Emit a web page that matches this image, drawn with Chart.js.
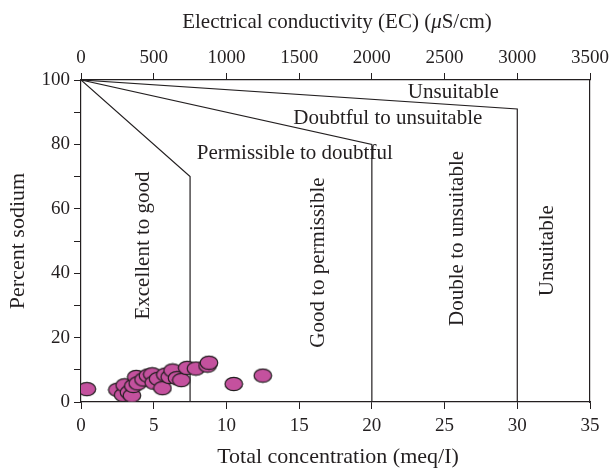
<!DOCTYPE html>
<html>
<head>
<meta charset="UTF-8">
<title>Percent sodium vs total concentration</title>
<script src="https://cdn.jsdelivr.net/npm/chart.js"></script>
<style>
  body { margin: 0; background: #fff; }
  canvas { display: block; }
</style>
</head>
<body>
<canvas id="chart" width="610" height="468"></canvas>
<script>
  // samples: total concentration (meq/l) and percent sodium
  const concentration = [0.4, 2.5, 2.9, 3.0, 3.3, 3.5, 3.6, 3.8, 3.9, 4.3, 4.6, 4.9, 5.0, 5.3, 5.6, 5.8, 6.1, 6.3, 6.6, 6.9, 7.3, 7.9, 8.7, 8.8, 10.5, 12.5];
  const sodium        = [4.0, 3.8, 2.2, 5.2, 3.0, 2.0, 5.0, 7.8, 5.8, 7.0, 8.2, 8.6, 6.0, 7.2, 4.3, 8.5, 7.8, 9.8, 7.4, 6.8, 10.6, 10.4, 11.3, 12.2, 5.6, 8.2];

  // class boundaries
  const bound1X = [0, 7.5, 7.5];
  const bound1Y = [100, 70, 0];
  const bound2X = [0, 20, 20];
  const bound2Y = [100, 80, 0];
  const bound3X = [0, 30, 30];
  const bound3Y = [100, 91, 0];

  // class names, placed in data units
  const regionNames = ["Unsuitable", "Doubtful to unsuitable", "Permissible to doubtful", "Excellent to good", "Good to permissible", "Double to unsuitable", "Unsuitable"];
  const regionX = [25.6, 21.1, 14.7, 4.3, 16.3, 25.9, 32.1];
  const regionY = [96, 88.2, 77.3, 48.6, 43.3, 50.8, 47];
  const regionVertical = [false, false, false, true, true, true, true];

  const xTicks = [0, 5, 10, 15, 20, 25, 30, 35];
  const ecTicks = [0, 500, 1000, 1500, 2000, 2500, 3000, 3500];

  const ink = '#231f20';
  const fontFamily = '"Liberation Serif", "DejaVu Serif", serif';

  function toPoints(xs, ys) {
    return xs.map((x, i) => ({ x: x, y: ys[i] }));
  }

  // elliptical marker
  const marker = document.createElement('canvas');
  marker.width = 20;
  marker.height = 16;
  (function () {
    const m = marker.getContext('2d');
    m.beginPath();
    m.ellipse(10, 8, 8.8, 6.7, 0, 0, Math.PI * 2);
    m.fillStyle = '#c4519e';
    m.fill();
    m.lineWidth = 1.2;
    m.strokeStyle = ink;
    m.stroke();
  })();

  function boundary(xs, ys) {
    return {
      type: 'line',
      data: toPoints(xs, ys),
      borderColor: ink,
      borderWidth: 1.2,
      pointRadius: 0,
      tension: 0,
      fill: false,
      order: 1
    };
  }

  const textPlugin = {
    id: 'texts',
    afterDatasetsDraw(chart) {
      const { ctx, chartArea, scales } = chart;
      ctx.save();
      ctx.fillStyle = ink;
      ctx.textAlign = 'center';
      ctx.textBaseline = 'middle';
      ctx.font = '21px ' + fontFamily;
      regionNames.forEach((t, i) => {
        const px = scales.x.getPixelForValue(regionX[i]);
        const py = scales.y.getPixelForValue(regionY[i]);
        ctx.save();
        ctx.translate(px, py);
        if (regionVertical[i]) ctx.rotate(-Math.PI / 2);
        ctx.fillText(t, 0, 0);
        ctx.restore();
      });

      // axis titles
      ctx.font = '22px ' + fontFamily;
      ctx.fillText('Total concentration (meq/I)', chartArea.left + 257, chartArea.bottom + 55);

      ctx.save();
      ctx.translate(18, (chartArea.top + chartArea.bottom) / 2);
      ctx.rotate(-Math.PI / 2);
      ctx.fillText('Percent sodium', 0, 0);
      ctx.restore();

      // top title with italic mu
      const parts = [['Electrical conductivity (EC) (', false], ['\u03bc', true], ['S/cm)', false]];
      const titleFont = '21px ' + fontFamily;
      let total = 0;
      parts.forEach(p => {
        ctx.font = (p[1] ? 'italic ' : '') + titleFont;
        total += ctx.measureText(p[0]).width;
      });
      let x = chartArea.left + 256 - total / 2;
      ctx.textAlign = 'left';
      parts.forEach(p => {
        ctx.font = (p[1] ? 'italic ' : '') + titleFont;
        ctx.fillText(p[0], x, 22);
        x += ctx.measureText(p[0]).width;
      });
      ctx.restore();
    }
  };

  const axisGrid = { drawOnChartArea: false, color: ink, tickLength: 7, lineWidth: 1 };
  const axisBorder = { color: ink, width: 1.2 };
  const tickFont = { family: fontFamily, size: 19 };

  // keep edge tick labels from squeezing the plot area
  function noSidePadding(s) {
    s.paddingLeft = 0;
    s.paddingRight = 0;
  }

  new Chart(document.getElementById('chart'), {
    type: 'scatter',
    data: {
      datasets: [
        {
          data: toPoints(concentration, sodium),
          pointStyle: marker,
          pointRadius: 8,
          order: 0
        },
        boundary(bound1X, bound1Y),
        boundary(bound2X, bound2Y),
        boundary(bound3X, bound3Y)
      ]
    },
    options: {
      responsive: false,
      animation: false,
      events: [],
      layout: { padding: 0 },
      plugins: { legend: { display: false }, tooltip: { enabled: false } },
      scales: {
        x: {
          type: 'linear', position: 'bottom', min: 0, max: 35,
          afterBuildTicks: s => { s.ticks = xTicks.map(v => ({ value: v })); },
          ticks: { color: ink, font: tickFont, padding: 6, maxRotation: 0, callback: v => String(v) },
          grid: axisGrid, border: axisBorder,
          afterFit: s => { s.height = 66; noSidePadding(s); }
        },
        x2: {
          type: 'linear', position: 'top', min: 0, max: 3500,
          afterBuildTicks: s => { s.ticks = ecTicks.map(v => ({ value: v })); },
          ticks: { color: ink, font: tickFont, padding: 4, maxRotation: 0, callback: v => String(v) },
          grid: axisGrid, border: axisBorder,
          afterFit: s => { s.height = 80; noSidePadding(s); }
        },
        y: {
          type: 'linear', position: 'left', min: 0, max: 100,
          ticks: { stepSize: 10, color: ink, font: tickFont, padding: 4,
                   callback: v => (v % 20 === 0 ? String(v) : '') },
          grid: axisGrid, border: axisBorder,
          afterFit: s => { s.width = 81; }
        },
        y2: {
          type: 'linear', position: 'right', min: 0, max: 100,
          ticks: { display: false },
          grid: { display: false },
          border: axisBorder,
          afterFit: s => { s.width = 20; }
        }
      }
    },
    plugins: [textPlugin]
  });
</script>
</body>
</html>
